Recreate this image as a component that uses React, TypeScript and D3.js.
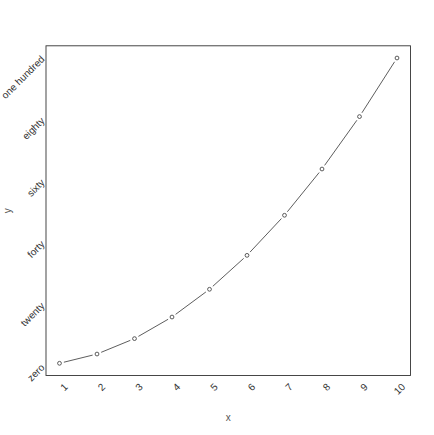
import React from 'react';
import * as d3 from 'd3';

const xValues = [1, 2, 3, 4, 5, 6, 7, 8, 9, 10];
const yValues = [1, 4, 9, 16, 25, 36, 49, 64, 81, 100];
const yTicks = [0, 20, 40, 60, 80, 100];
const yTickLabels = ['zero', 'twenty', 'forty', 'sixty', 'eighty', 'one hundred'];

const W = 434;
const H = 435;
const box = { left: 46, right: 410.5, top: 45.8, bottom: 375.5 };
const FONT = '"Liberation Sans", Arial, sans-serif';
const INK = '#333';

const App: React.FC = () => {
  const padX = (10 - 1) * 0.04;
  const padY = (100 - 1) * 0.04;
  const x = d3.scaleLinear().domain([1 - padX, 10 + padX]).range([box.left, box.right]);
  const y = d3.scaleLinear().domain([1 - padY, 100 + padY]).range([box.bottom, box.top]);

  const pts = xValues.map((v, i) => [x(v), y(yValues[i])] as [number, number]);
  const gap = 4.5;

  // type = "b": segments stop short of each point
  const segs = pts.slice(1).map((p, i) => {
    const a = pts[i];
    const dx = p[0] - a[0];
    const dy = p[1] - a[1];
    const len = Math.hypot(dx, dy);
    const ux = dx / len;
    const uy = dy / len;
    return {
      x1: a[0] + ux * gap, y1: a[1] + uy * gap,
      x2: p[0] - ux * gap, y2: p[1] - uy * gap,
    };
  });

  return (
    <div style={{ position: 'absolute', left: 0, top: 0 }}>
      <svg width={W} height={H} style={{ display: 'block', background: '#fff' }}>
        <rect x={box.left} y={box.top} width={box.right - box.left} height={box.bottom - box.top}
          fill="none" stroke={INK} strokeWidth={0.9} />

        {segs.map((s, i) => (
          <line key={i} x1={s.x1} y1={s.y1} x2={s.x2} y2={s.y2} stroke={INK} strokeWidth={0.8} />
        ))}
        {pts.map((p, i) => (
          <circle key={i} cx={p[0]} cy={p[1]} r={1.9} fill="none" stroke={INK} strokeWidth={0.8} />
        ))}

        {xValues.map((v) => (
          <text key={v} transform={`translate(${x(v) + 4},${box.bottom + 7}) rotate(-45)`}
            textAnchor="end" dy="0.7em" fontFamily={FONT} fontSize={10} fill={INK}>{v}</text>
        ))}
        {yTicks.map((v, i) => (
          <text key={v} transform={`translate(${box.left - 2.5},${y(v)}) rotate(-45)`}
            textAnchor="end" dy="0.25em" fontFamily={FONT} fontSize={10} fill={INK}>{yTickLabels[i]}</text>
        ))}

        <text x={(box.left + box.right) / 2} y={421} textAnchor="middle"
          fontFamily={FONT} fontSize={10} fill="#555">x</text>
        <text transform={`translate(11,${(box.top + box.bottom) / 2}) rotate(-90)`} textAnchor="middle"
          fontFamily={FONT} fontSize={10} fill="#555">y</text>
      </svg>
    </div>
  );
};

export default App;
